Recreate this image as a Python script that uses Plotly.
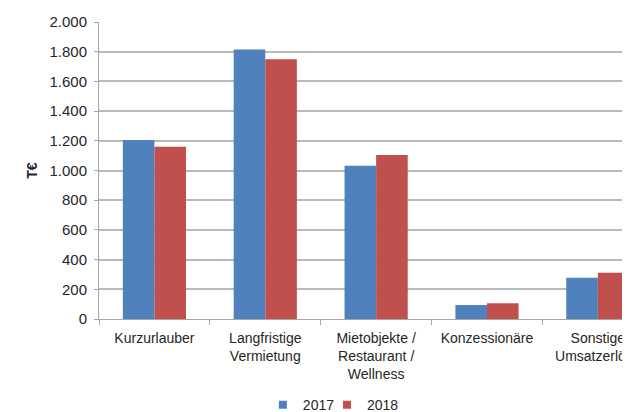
import plotly.graph_objects as go

categories = ["Kurzurlauber", "Langfristige<br>Vermietung", "Mietobjekte /<br>Restaurant /<br>Wellness",
              "Konzessionäre", "Sonstige<br>Umsatzerlöse"]
values_2017 = [1205, 1815, 1032, 94, 278]
values_2018 = [1160, 1750, 1104, 106, 312]
series_names = ["2017", "2018"]
colors = ["#4f81bd", "#c0504d"]

fig = go.Figure()
for name, vals, col in zip(series_names, [values_2017, values_2018], colors):
    fig.add_trace(go.Bar(x=categories, y=vals, name=name, marker_color=col,
                         marker_line_width=0, showlegend=False))
# legend entries with small square keys (one legend box per series for tight spacing)
for name, col, leg in zip(series_names, colors, ["legend", "legend2"]):
    fig.add_trace(go.Scatter(x=[None], y=[None], mode="markers", name=name, legend=leg,
                             marker=dict(symbol="square", size=8, color=col)))

legend_common = dict(orientation="h", xanchor="left", y=-0.29, yanchor="middle",
                     font=dict(size=14), itemwidth=30, bgcolor="rgba(0,0,0,0)")

# the page body adds an 8px offset; figure is sized to fill the rest of the 630x412 window
fig.update_layout(
    width=622, height=404,
    margin=dict(l=91, r=0, t=14, b=93, autoexpand=False),
    plot_bgcolor="white", paper_bgcolor="white",
    font=dict(family="Liberation Sans, Arial, sans-serif", size=14, color="#262626"),
    barmode="group", bargap=0.43, bargroupgap=0,
    separators=",.",
    legend=dict(x=0.3086, **legend_common),
    legend2=dict(x=0.4294, **legend_common),
)
fig.update_xaxes(
    type="category", range=[-0.5, 4.29], tickson="boundaries",
    ticks="outside", ticklen=5, tickcolor="#a6a6a6", ticklabelstandoff=6,
    showline=True, linecolor="#a6a6a6", linewidth=1, showgrid=False,
    tickfont=dict(size=14), fixedrange=True, automargin=False,
)
fig.update_yaxes(
    range=[0, 2000], dtick=200, tickformat=",.0f",
    ticks="outside", ticklen=4, tickcolor="#a6a6a6", ticklabelstandoff=4,
    showline=True, linecolor="#a6a6a6", linewidth=1,
    showgrid=True, gridcolor="#bababa", gridwidth=1.5,
    tickfont=dict(size=15), automargin=False,
    title=dict(text="<b>T€</b>", font=dict(size=14), standoff=8),
    zeroline=False,
)

fig.write_html("out.html")
